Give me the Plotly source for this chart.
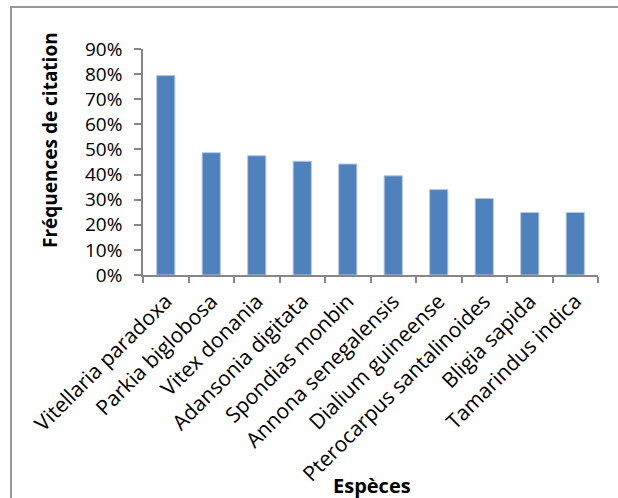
import plotly.graph_objects as go

especes = ["Vitellaria paradoxa", "Parkia biglobosa", "Vitex donania", "Adansonia digitata",
           "Spondias monbin", "Annona senegalensis", "Dialium guineense",
           "Pterocarpus santalinoides", "Bligia sapida", "Tamarindus indica"]
frequences = [0.794, 0.487, 0.475, 0.453, 0.442, 0.395, 0.340, 0.305, 0.249, 0.249]
y_ticks = [0, 0.1, 0.2, 0.3, 0.4, 0.5, 0.6, 0.7, 0.8, 0.9]

W, H = 618, 498
L, R, T, B = 143, 20, 49, 223
pw, ph = W - L - R, H - T - B

def px_x(x):
    return (x - L) / pw

def px_y(y):
    return (H - B - y) / ph

font = "Open Sans"
axis_col = "#868686"

fig = go.Figure(go.Bar(
    x=especes, y=frequences,
    marker=dict(color="#4F81BD", line=dict(color="#B3C8E2", width=1)),
    width=0.4,
))

fig.update_layout(
    width=W, height=H,
    margin=dict(l=L, r=R, t=T, b=B),
    paper_bgcolor="white", plot_bgcolor="white",
    showlegend=False,
    font=dict(family=font, color="black", size=19),
    xaxis=dict(
        type="category", tickangle=-45, tickson="boundaries",
        ticks="outside", ticklen=6, tickwidth=1.5, tickcolor=axis_col,
        showline=True, linecolor=axis_col, linewidth=1.5,
        showgrid=False, tickfont=dict(size=21, family=font),
        range=[-0.5, 9.5], ticklabelstandoff=4, automargin=False,
    ),
    yaxis=dict(
        range=[0, 0.9], tickvals=y_ticks, tickformat=".0%",
        ticks="outside", ticklen=7, tickwidth=1.5, tickcolor=axis_col,
        showline=True, linecolor=axis_col, linewidth=1.5,
        showgrid=False, zeroline=False, tickfont=dict(size=19, family=font),
        ticklabelstandoff=8, automargin=False,
    ),
    annotations=[
        dict(text="<b>Fréquences de citation</b>", xref="paper", yref="paper",
             x=px_x(50), y=px_y(140), textangle=-90, showarrow=False,
             font=dict(size=19, family=font), xanchor="center", yanchor="middle"),
        dict(text="<b>Espèces</b>", xref="paper", yref="paper",
             x=px_x(372), y=px_y(485), showarrow=False,
             font=dict(size=20, family=font), xanchor="center", yanchor="middle"),
    ],
    shapes=[
        dict(type="rect", xref="paper", yref="paper",
             x0=px_x(11), y0=px_y(560), x1=px_x(680), y1=px_y(7),
             line=dict(color="#999999", width=2), fillcolor="rgba(0,0,0,0)", layer="below"),
    ],
)

fig.write_html("out.html")
